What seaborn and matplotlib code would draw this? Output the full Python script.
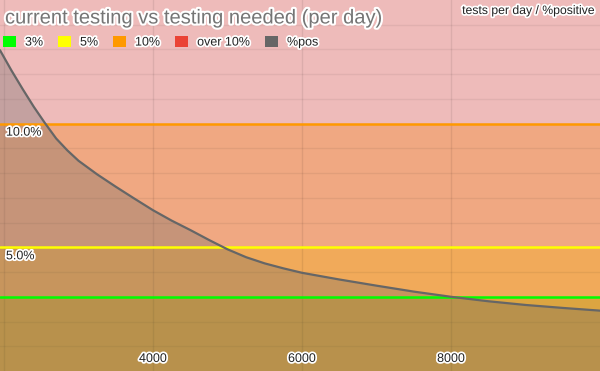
import numpy as np
import pandas as pd
import matplotlib
matplotlib.use("Agg")
import matplotlib.pyplot as plt
import matplotlib.patheffects as pe
from matplotlib.patches import Patch
import seaborn as sns

# ---- data ----
tests_per_day = [1946, 2100, 2250, 2400, 2550, 2700, 2850, 3000, 3250, 3500,
                 3750, 4000, 4250, 4500, 4750, 5000, 5250, 5500, 5750, 6000,
                 6500, 7000, 7500, 8000, 8500, 9000, 9500, 10000]
pct_positive = [12.97, 12.15, 11.4, 10.68, 10.02, 9.4, 8.92, 8.5, 7.95, 7.45,
                6.97, 6.5, 6.08, 5.7, 5.3, 4.92, 4.6, 4.35, 4.15, 3.97,
                3.7, 3.45, 3.21, 3.0, 2.82, 2.67, 2.55, 2.44]
threshold_names = ["3%", "5%", "10%", "over 10%"]
threshold_values = [3, 5, 10, 15]
x_ticks = [4000, 6000, 8000]
y_ticks = [5, 10]
title = "current testing vs testing needed (per day)"
axis_title = "tests per day / %positive"

# ---- style ----
sns.set_theme(style="white")
plt.rcParams["font.family"] = ["Liberation Sans", "DejaVu Sans"]

band_colors = ["#DCA541", "#F1AA5A", "#F0A882", "#EEBBBA"]
line_colors = ["#00FF00", "#FFFF00", "#FF9900", "#EA4335"]
legend_colors = ["#00FF00", "#FFFF00", "#FF9900", "#EA4335", "#666666"]

fig = plt.figure(figsize=(6.0, 3.71), dpi=100)
ax = fig.add_axes([0, 0, 1, 1])
xmin, xmax = tests_per_day[0], tests_per_day[-1]
ax.set_xlim(xmin, xmax)
ax.set_ylim(0, threshold_values[-1])

xs = np.array([xmin, xmax])
lower = 0
for val, col in zip(threshold_values, band_colors):
    ax.fill_between(xs, lower, val, color=col, lw=0, zorder=1)
    lower = val

# grid
for gx in [2000, 4000, 6000, 8000]:
    ax.axvline(gx, color=(0, 0, 0, 0.08), lw=1, zorder=2)
for gy in range(1, 15):
    ax.axhline(gy, color=(0, 0, 0, 0.06), lw=1, zorder=2)

# threshold lines
for val, col in zip(threshold_values[:3], line_colors[:3]):
    ax.axhline(val, color=col, lw=1.8, zorder=4)

df = pd.DataFrame({"tests": tests_per_day, "pos": pct_positive})
ax.fill_between(df["tests"], 0, df["pos"], color="#666666", alpha=0.3, lw=0, zorder=3)
sns.lineplot(data=df, x="tests", y="pos", ax=ax, color="#666666", lw=1.6, zorder=5)

halo = [pe.withStroke(linewidth=3, foreground="white")]
halo2 = [pe.withStroke(linewidth=2.5, foreground="white")]

ax.set_xticks([])
ax.set_yticks([])
ax.set_xlabel("")
ax.set_ylabel("")
for s in ax.spines.values():
    s.set_visible(False)

for xt in x_ticks:
    ax.text(xt, 12 / 24.6, f"{xt}", ha="center", va="center", fontsize=9,
            color="#222222", path_effects=halo2, zorder=6)
for yt in y_ticks:
    ax.text(xmin + 80, yt - 0.12, f"{yt:.1f}%", ha="left", va="top", fontsize=9,
            color="#222222", path_effects=halo2, zorder=6)

fig.text(5 / 600, 1 - 18 / 371, title, ha="left", va="center", fontsize=14.5,
         color="#757575", path_effects=halo, zorder=7)
fig.text(595 / 600, 1 - 11 / 371, axis_title, ha="right", va="center", fontsize=8.8,
         color="#222222", path_effects=halo2, zorder=7)

handles = [Patch(facecolor=c, edgecolor="none") for c in legend_colors]
labels = threshold_names + ["%pos"]
leg = ax.legend(handles, labels, loc="upper left", bbox_to_anchor=(0.0, 1 - 33 / 371),
                ncol=5, frameon=False, fontsize=9, handlelength=1.05, handleheight=1.05,
                handletextpad=0.75, columnspacing=1.15, borderaxespad=0, borderpad=0.2)
for t in leg.get_texts():
    t.set_color("#222222")
    t.set_path_effects(halo2)
leg.set_zorder(8)

fig.savefig("out.png", dpi=100)
